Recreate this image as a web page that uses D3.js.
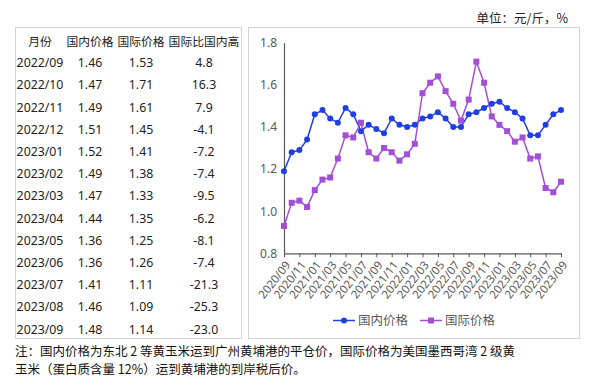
<!DOCTYPE html>
<html>
<head>
<meta charset="utf-8">
<script src="https://cdn.jsdelivr.net/npm/d3@7"></script>
<style>
  html, body { margin: 0; padding: 0; background: #fff; }
  svg { display: block; }
  text { font-family: "Noto Sans", "Noto Sans CJK SC", sans-serif; }
</style>
</head>
<body>
<svg id="chart" width="591" height="386"></svg>
<script>
// ---- Data ----
const months = [
  "2020/09","2020/10","2020/11","2020/12","2021/01","2021/02","2021/03","2021/04","2021/05","2021/06",
  "2021/07","2021/08","2021/09","2021/10","2021/11","2021/12","2022/01","2022/02","2022/03","2022/04",
  "2022/05","2022/06","2022/07","2022/08","2022/09","2022/10","2022/11","2022/12","2023/01","2023/02",
  "2023/03","2023/04","2023/05","2023/06","2023/07","2023/08","2023/09"
];
const domesticPrice = [
  1.19,1.28,1.29,1.34,1.46,1.48,1.44,1.42,1.49,1.46,
  1.38,1.41,1.39,1.37,1.44,1.41,1.40,1.41,1.44,1.45,
  1.47,1.44,1.40,1.40,1.46,1.47,1.49,1.51,1.52,1.49,
  1.47,1.44,1.36,1.36,1.41,1.46,1.48
];
const internationalPrice = [
  0.93,1.04,1.05,1.02,1.10,1.15,1.16,1.25,1.36,1.35,
  1.42,1.28,1.25,1.30,1.28,1.24,1.27,1.32,1.56,1.61,
  1.64,1.57,1.51,1.43,1.53,1.71,1.61,1.45,1.41,1.38,
  1.33,1.35,1.25,1.26,1.11,1.09,1.14
];
const yTicks = [0.8, 1.0, 1.2, 1.4, 1.6, 1.8];
const seriesNames = ["国内价格", "国际价格"];

const tableHeader = ["月份", "国内价格", "国际价格", "国际比国内高"];
const tableMonths = ["2022/09","2022/10","2022/11","2022/12","2023/01","2023/02","2023/03","2023/04","2023/05","2023/06","2023/07","2023/08","2023/09"];
const tableDomestic = ["1.46","1.47","1.49","1.51","1.52","1.49","1.47","1.44","1.36","1.36","1.41","1.46","1.48"];
const tableInternational = ["1.53","1.71","1.61","1.45","1.41","1.38","1.33","1.35","1.25","1.26","1.11","1.09","1.14"];
const tableDiff = ["4.8","16.3","7.9","-4.1","-7.2","-7.4","-9.5","-6.2","-8.1","-7.4","-21.3","-25.3","-23.0"];

const unitText = "单位：元/斤，%";
const noteLines = [
  "注：国内价格为东北 2 等黄玉米运到广州黄埔港的平仓价，国际价格为美国墨西哥湾 2 级黄",
  "玉米（蛋白质含量 12%）运到黄埔港的到岸税后价。"
];

const blue = "#1f3fe4";
const purple = "#a24ed6";
const axisGray = "#595959";

const svg = d3.select("#chart");

// ---- Unit label ----
svg.append("text").attr("x", 568).attr("y", 17).attr("text-anchor", "end")
  .attr("dominant-baseline", "central").attr("font-size", 12.5).attr("fill", "#222")
  .style("font-family", "'Noto Sans CJK SC', serif").text(unitText);

// ---- Table ----
svg.append("rect").attr("x", 15.5).attr("y", 27.5).attr("width", 226).attr("height", 311)
  .attr("fill", "none").attr("stroke", "#d4d4d4").attr("stroke-width", 1);

const colX = [40, 90, 141, 204];
const rowY = d3.scaleLinear().domain([0, 1]).range([40.5, 62.7]);
const tableCols = [tableMonths, tableDomestic, tableInternational, tableDiff];
const tg = svg.append("g").attr("fill", "#222");
tableHeader.forEach((h, j) => {
  tg.append("text").attr("x", colX[j]).attr("y", rowY(0)).attr("text-anchor", "middle")
    .attr("dominant-baseline", "central").attr("font-size", 11.8).attr("fill", "#222").text(h);
});
tableMonths.forEach((m, i) => {
  tableCols.forEach((col, j) => {
    tg.append("text").attr("x", colX[j]).attr("y", rowY(i + 1)).attr("text-anchor", "middle")
      .attr("dominant-baseline", "central").attr("font-size", 12.3).attr("fill", "#222").text(col[i]);
  });
});

// ---- Chart box ----
svg.append("rect").attr("x", 248.5).attr("y", 27.5).attr("width", 331).attr("height", 311)
  .attr("fill", "none").attr("stroke", "#d4d4d4").attr("stroke-width", 1);

const x = d3.scalePoint().domain(months).range([284, 561]);
const y = d3.scaleLinear().domain([0.8, 1.8]).range([253.3, 42.7]);

// Y axis (line, no ticks)
const yAxis = d3.axisLeft(y).tickValues(yTicks).tickFormat(d3.format(".1f")).tickSize(0).tickPadding(7);
const yg = svg.append("g").attr("transform", `translate(${x(months[0])},0)`).call(yAxis);
yg.select(".domain").attr("stroke", axisGray).attr("stroke-width", 1.2);
yg.selectAll("text").attr("font-size", 12).attr("fill", axisGray)
  .style("font-family", "'Noto Sans', sans-serif");

// X axis
const xTickVals = months.filter((d, i) => i % 2 === 0);
const xAxis = d3.axisBottom(x).tickValues(xTickVals).tickSize(4).tickSizeOuter(0).tickPadding(3);
const xg = svg.append("g").attr("transform", `translate(0,${y(0.8)})`).call(xAxis);
xg.select(".domain").attr("stroke", axisGray).attr("stroke-width", 1.2);
xg.selectAll(".tick line").attr("stroke", axisGray);
xg.selectAll("text").attr("font-size", 11.5).attr("fill", axisGray)
  .attr("text-anchor", "end").attr("dy", null).attr("y", 0)
  .attr("dominant-baseline", "central")
  .attr("transform", "translate(3,9) rotate(-52)")
  .style("font-family", "'Noto Sans', sans-serif");

// Lines
const line = d3.line().x((d, i) => x(months[i])).y(d => y(d));
svg.append("path").datum(domesticPrice).attr("d", line).attr("fill", "none")
  .attr("stroke", blue).attr("stroke-width", 1.5);
svg.append("path").datum(internationalPrice).attr("d", line).attr("fill", "none")
  .attr("stroke", purple).attr("stroke-width", 1.5);

// Markers
svg.append("g").selectAll("circle").data(domesticPrice).join("circle")
  .attr("cx", (d, i) => x(months[i])).attr("cy", d => y(d)).attr("r", 3)
  .attr("fill", blue);
svg.append("g").selectAll("rect").data(internationalPrice).join("rect")
  .attr("x", (d, i) => x(months[i]) - 3).attr("y", d => y(d) - 3)
  .attr("width", 6).attr("height", 6).attr("fill", purple);

// Legend
const lg = svg.append("g");
const legendItems = [
  { name: seriesNames[0], color: blue, x0: 333, shape: "circle" },
  { name: seriesNames[1], color: purple, x0: 420, shape: "square" }
];
const ly = 320.5;
legendItems.forEach(it => {
  lg.append("line").attr("x1", it.x0).attr("x2", it.x0 + 22).attr("y1", ly).attr("y2", ly)
    .attr("stroke", it.color).attr("stroke-width", 1.5);
  if (it.shape === "circle") {
    lg.append("circle").attr("cx", it.x0 + 11).attr("cy", ly).attr("r", 3).attr("fill", it.color);
  } else {
    lg.append("rect").attr("x", it.x0 + 8).attr("y", ly - 3).attr("width", 6).attr("height", 6).attr("fill", it.color);
  }
  lg.append("text").attr("x", it.x0 + 25).attr("y", ly).attr("dominant-baseline", "central")
    .attr("font-size", 12.5).attr("fill", axisGray).text(it.name);
});

// Note
noteLines.forEach((t, i) => {
  svg.append("text").attr("x", 15).attr("y", 350.5 + i * 18).attr("dominant-baseline", "central")
    .attr("font-size", 12.5).attr("fill", "#111").style("font-family", "'Noto Sans CJK SC', serif")
    .text(t);
});
</script>
</body>
</html>
